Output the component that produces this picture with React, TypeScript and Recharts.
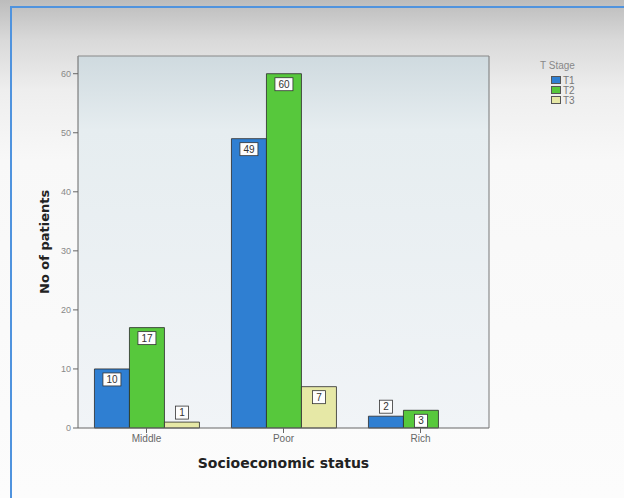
import { Bar, BarChart, CartesianGrid, Legend, XAxis, YAxis } from "recharts";

const CATEGORIES = ["Middle", "Poor", "Rich"];
const T1 = [10, 49, 2];
const T2 = [17, 60, 3];
const T3 = [1, 7, 0];
const SERIES = [
  { key: "T1", name: "T1", color: "#2f7fd2" },
  { key: "T2", name: "T2", color: "#57c83c" },
  { key: "T3", name: "T3", color: "#e6e8a6" }
];
const Y_TICKS = [0, 10, 20, 30, 40, 50, 60];

const data = CATEGORIES.map((c, i) => ({ name: c, T1: T1[i], T2: T2[i], T3: T3[i] }));

function ValueBox(props: any) {
  const { x, y, width, height, value } = props;
  if (!value) return null;
  const txt = String(value);
  const w = txt.length > 1 ? 18 : 13;
  const h = 13;
  const cx = x + width / 2;
  const top = height >= 16 ? y + 4 : y - h - 3;
  return (
    <g>
      <rect x={cx - w / 2} y={top} width={w} height={h} fill="#fdfdfd" stroke="#333" strokeWidth={0.8} />
      <text x={cx} y={top + h / 2 + 3.5} textAnchor="middle" fontSize={10} fontFamily="Liberation Sans" fill="#333">
        {txt}
      </text>
    </g>
  );
}

function StageLegend({ payload }: any) {
  return (
    <div style={{ fontFamily: "Liberation Sans", fontSize: 10, color: "#888" }}>
      <div style={{ marginBottom: 4 }}>T Stage</div>
      {(payload || []).map((p: any) => (
        <div key={p.value} style={{ display: "flex", alignItems: "center", height: 10, marginLeft: 11 }}>
          <span style={{ width: 10, height: 8, background: p.color, border: "1px solid #555", marginRight: 2, boxSizing: "border-box" }} />
          <span style={{ color: "#777" }}>{p.value}</span>
        </div>
      ))}
    </div>
  );
}

export default function App() {
  return (
    <div
      style={{
        position: "absolute",
        left: 0,
        top: 0,
        width: 624,
        height: 498,
        overflow: "hidden",
        background: "linear-gradient(to bottom, #bcbcbc 0px, #d9d9d9 40px, #eeeeee 90px, #f8f8f8 160px, #fcfcfc 100%)"
      }}
    >
      <div
        style={{
          position: "absolute",
          left: 10,
          top: 6,
          width: 640,
          height: 520,
          borderLeft: "2px solid #4f93de",
          borderTop: "2px solid #4f93de"
        }}
      />
      <div style={{ position: "absolute", left: 0, top: 0 }}>
        <BarChart
          width={624}
          height={498}
          data={data}
          margin={{ top: 55, right: 134, bottom: 30, left: 38 }}
          barCategoryGap="12%"
          barGap={0}
        >
          <defs>
            <linearGradient id="plotBg" x1="0" y1="0" x2="0" y2="1">
              <stop offset="0%" stopColor="#cfdadf" />
              <stop offset="20%" stopColor="#e6edf0" />
              <stop offset="100%" stopColor="#f1f4f7" />
            </linearGradient>
          </defs>
          <CartesianGrid fill="url(#plotBg)" horizontal={false} vertical={false} />
          <XAxis
            dataKey="name"
            height={40}
            stroke="#666"
            tickSize={5}
            tick={{ fontSize: 10, fill: "#666", fontFamily: "Liberation Sans" }}
            label={{
              value: "Socioeconomic status",
              position: "insideBottom",
              offset: 0,
              style: { fontSize: 14, fontWeight: "bold", fill: "#222", fontFamily: "DejaVu Sans" }
            }}
          />
          <YAxis
            yAxisId="l"
            width={40}
            domain={[0, 63]}
            ticks={Y_TICKS}
            stroke="#666"
            tickSize={5}
            tick={{ fontSize: 9, fill: "#888", fontFamily: "Liberation Sans" }}
            label={{
              value: "No of patients",
              angle: -90,
              position: "insideLeft",
              offset: 6,
              dy: 52,
              style: { fontSize: 13, fontWeight: "bold", fill: "#222", fontFamily: "DejaVu Sans" }
            }}
          />
          <YAxis yAxisId="r" orientation="right" width={1} domain={[0, 63]} tick={false} tickLine={false} stroke="#777" />
          <XAxis xAxisId="top" orientation="top" dataKey="name" height={1} tick={false} tickLine={false} stroke="#888" />
          <Legend
            layout="vertical"
            align="center"
            verticalAlign="middle"
            wrapperStyle={{ top: 60, left: 540, width: 60 }}
            content={<StageLegend />}
          />
          {SERIES.map((s) => (
            <Bar
              key={s.key}
              dataKey={s.key}
              name={s.name}
              yAxisId="l"
              fill={s.color}
              stroke="#2a2a2a"
              strokeWidth={0.8}
              isAnimationActive={false}
              label={<ValueBox />}
            />
          ))}
        </BarChart>
      </div>
    </div>
  );
}
